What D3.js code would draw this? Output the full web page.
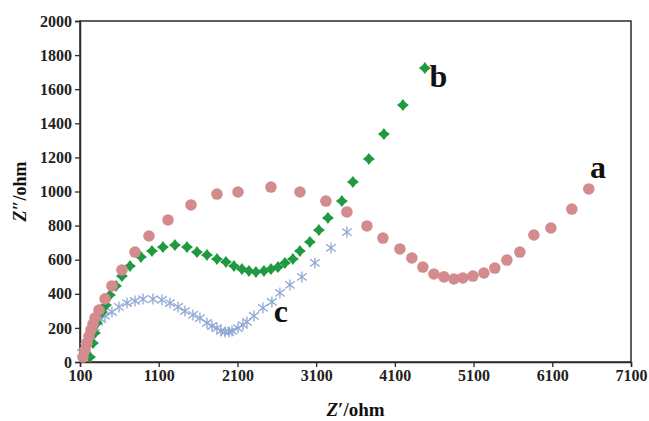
<!DOCTYPE html>
<html>
<head>
<meta charset="utf-8">
<script src="https://cdn.jsdelivr.net/npm/d3@7"></script>
<style>
  body { margin: 0; background: #fff; }
  svg { display: block; }
</style>
</head>
<body>
<svg id="chart" width="649" height="421"></svg>
<script>
// Nyquist data: Z' (ohm) and Z'' (ohm)
const aZre = [138, 164, 189, 214, 240, 265, 290, 341, 418, 506, 633, 799, 976, 1218, 1510, 1840, 2107, 2526, 2894, 3224, 3491, 3745, 3948, 4164, 4316, 4456, 4596, 4723, 4850, 4964, 5091, 5231, 5370, 5523, 5688, 5866, 6082, 6348, 6564];
const aZim = [29, 70, 111, 152, 188, 223, 258, 305, 370, 446, 540, 645, 739, 833, 921, 985, 997, 1026, 997, 944, 880, 798, 727, 663, 610, 557, 516, 499, 487, 493, 504, 522, 551, 598, 645, 745, 786, 897, 1015];

const bZre = [227, 265, 290, 316, 379, 430, 481, 557, 633, 735, 875, 1014, 1154, 1306, 1459, 1586, 1713, 1840, 1954, 2056, 2157, 2246, 2335, 2437, 2526, 2615, 2704, 2805, 2894, 3021, 3135, 3250, 3427, 3567, 3770, 3961, 4202, 4481];
const bZim = [29, 111, 170, 229, 293, 334, 393, 446, 504, 563, 616, 651, 674, 686, 674, 645, 628, 604, 587, 563, 545, 534, 528, 534, 545, 557, 581, 604, 651, 704, 774, 845, 944, 1056, 1191, 1337, 1507, 1724];

const cZre = [125, 164, 189, 227, 252, 290, 329, 367, 418, 506, 595, 697, 799, 900, 1027, 1141, 1243, 1345, 1433, 1535, 1624, 1713, 1776, 1840, 1891, 1942, 1993, 2031, 2107, 2170, 2221, 2310, 2424, 2538, 2640, 2767, 2919, 3084, 3288, 3491];
const cZim = [53, 88, 111, 147, 176, 205, 235, 252, 270, 293, 323, 346, 358, 369, 369, 364, 346, 323, 299, 276, 258, 229, 211, 199, 182, 176, 176, 182, 199, 217, 235, 270, 317, 352, 405, 452, 499, 581, 669, 762];

const xTicks = [100, 1100, 2100, 3100, 4100, 5100, 6100, 7100];
const yTicks = [0, 200, 400, 600, 800, 1000, 1200, 1400, 1600, 1800, 2000];

const margin = { top: 21, right: 18, bottom: 59, left: 80 };
const width = 649, height = 421;
const font = '"Liberation Serif", "Times New Roman", serif';

const svg = d3.select('#chart');

const x = d3.scaleLinear([100, 7100], [margin.left, width - margin.right]);
const y = d3.scaleLinear([0, 2000], [height - margin.bottom, margin.top]);

const toPoints = (xs, ys) => xs.map((v, i) => ({ x: v, y: ys[i] }));

// plot frame
svg.append('rect')
  .attr('x', x(100))
  .attr('y', y(2000))
  .attr('width', x(7100) - x(100))
  .attr('height', y(0) - y(2000))
  .attr('fill', 'none')
  .attr('stroke', '#2b2b2b')
  .attr('stroke-width', 1.5);

// axes
const xAxis = svg.append('g')
  .attr('transform', `translate(0,${y(0)})`)
  .call(d3.axisBottom(x).tickValues(xTicks).tickFormat(d3.format('d')).tickSize(5).tickPadding(3));
const yAxis = svg.append('g')
  .attr('transform', `translate(${x(100)},0)`)
  .call(d3.axisLeft(y).tickValues(yTicks).tickFormat(d3.format('d')).tickSize(5).tickPadding(3));

[xAxis, yAxis].forEach(g => {
  g.select('.domain').attr('stroke', '#2b2b2b').attr('stroke-width', 1.5);
  g.selectAll('.tick line').attr('stroke', '#2b2b2b').attr('stroke-width', 1.3);
  g.selectAll('.tick text')
    .attr('font-family', font)
    .attr('font-weight', 'bold')
    .attr('font-size', 16)
    .attr('fill', '#222');
});

// markers
const diamond = 'M0,-6L2.6,-2.6L6,0L2.6,2.6L0,6L-2.6,2.6L-6,0L-2.6,-2.6Z';

svg.append('g')
  .selectAll('g')
  .data(toPoints(cZre, cZim))
  .join('g')
    .attr('transform', d => `translate(${x(d.x)},${y(d.y)})`)
    .attr('stroke', '#8fa7d3')
    .attr('stroke-width', 1.3)
    .call(g => {
      g.append('line').attr('x1', 0).attr('y1', -5.5).attr('x2', 0).attr('y2', 5.5);
      g.append('line').attr('x1', -4.8).attr('y1', -3.6).attr('x2', 4.8).attr('y2', 3.6);
      g.append('line').attr('x1', -4.8).attr('y1', 3.6).attr('x2', 4.8).attr('y2', -3.6);
    });

svg.append('g')
  .selectAll('path')
  .data(toPoints(bZre, bZim))
  .join('path')
    .attr('d', diamond)
    .attr('transform', d => `translate(${x(d.x)},${y(d.y)})`)
    .attr('fill', '#1f9a3e');

svg.append('g')
  .selectAll('circle')
  .data(toPoints(aZre, aZim))
  .join('circle')
    .attr('cx', d => x(d.x))
    .attr('cy', d => y(d.y))
    .attr('r', 5.8)
    .attr('fill', '#d48b8d');

// series labels
const labels = [
  { t: 'a', x: 6580, y: 1080 },
  { t: 'b', x: 4540, y: 1610 },
  { t: 'c', x: 2560, y: 235 }
];
svg.append('g')
  .selectAll('text')
  .data(labels)
  .join('text')
    .attr('x', d => x(d.x))
    .attr('y', d => y(d.y))
    .text(d => d.t)
    .attr('font-family', font)
    .attr('font-weight', 'bold')
    .attr('font-size', 32)
    .attr('fill', '#111');

// axis titles
const xTitle = svg.append('text')
  .attr('x', (x(100) + x(7100)) / 2)
  .attr('y', 416)
  .attr('text-anchor', 'middle')
  .attr('font-family', font)
  .attr('font-weight', 'bold')
  .attr('font-size', 19)
  .attr('fill', '#111');
xTitle.append('tspan').attr('font-style', 'italic').text('Z');
xTitle.append('tspan').text('′/ohm');

const yTitle = svg.append('text')
  .attr('transform', `translate(26,${(y(0) + y(2000)) / 2}) rotate(-90)`)
  .attr('text-anchor', 'middle')
  .attr('font-family', font)
  .attr('font-weight', 'bold')
  .attr('font-size', 18)
  .attr('fill', '#111');
yTitle.append('tspan').attr('font-style', 'italic').text('Z');
yTitle.append('tspan').text('″/ohm');
</script>
</body>
</html>
